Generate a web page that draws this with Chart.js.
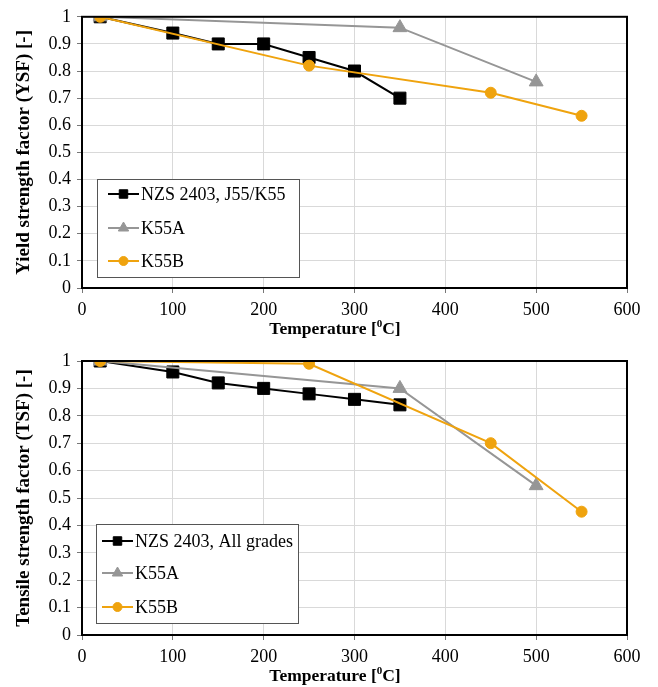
<!DOCTYPE html>
<html>
<head>
<meta charset="utf-8">
<title>Strength reduction factors</title>
<script src="https://cdn.jsdelivr.net/npm/chart.js@4.4.1/dist/chart.umd.min.js"></script>
<style>
  body { margin: 0; background: #fff; }
  canvas { display: block; }
</style>
</head>
<body>
<canvas id="yieldChart" width="658" height="340"></canvas>
<canvas id="tensileChart" width="658" height="347"></canvas>
<script>
// Temperatures (deg C) for each series
const tempsNzs = [20, 100, 150, 200, 250, 300, 350];
const tempsK55a = [20, 350, 500];
const tempsK55b = [20, 250, 450, 550];

// Yield strength factors
const nzsYield = [1, 0.94, 0.9, 0.9, 0.85, 0.8, 0.7];
const k55aYield = [1, 0.96, 0.76];
const k55bYield = [1, 0.82, 0.72, 0.635];

// Tensile strength factors
const nzsTensile = [1, 0.96, 0.92, 0.9, 0.88, 0.86, 0.84];
const k55aTensile = [1, 0.9, 0.545];
const k55bTensile = [1, 0.99, 0.70, 0.45];

const xTicks = [0, 100, 200, 300, 400, 500, 600];

const SERIF = "'Liberation Serif', 'Times New Roman', serif";
const ORANGE = '#EFA30E';
const GREY = '#969696';

function toPoints(xs, ys) {
    return xs.map((x, i) => ({ x: x, y: ys[i] }));
}

// Legend box drawn inside the plot, with small copies of the markers
const boxLegend = {
    id: 'boxLegend',
    afterDraw(chart, args, opts) {
        const ctx = chart.ctx;
        ctx.save();
        ctx.strokeStyle = '#555';
        ctx.lineWidth = 1;
        ctx.fillStyle = '#fff';
        ctx.fillRect(opts.box[0], opts.box[1], opts.box[2], opts.box[3]);
        ctx.strokeRect(opts.box[0] + 0.5, opts.box[1] + 0.5, opts.box[2], opts.box[3]);
        ctx.font = '18px ' + SERIF;
        ctx.textBaseline = 'middle';
        chart.data.datasets.forEach((ds, i) => {
            const y = opts.rows[i];
            ctx.strokeStyle = ds.borderColor;
            ctx.lineWidth = 2;
            ctx.beginPath();
            ctx.moveTo(opts.line[0], y);
            ctx.lineTo(opts.line[1], y);
            ctx.stroke();
            ctx.fillStyle = ds.backgroundColor;
            ctx.lineWidth = 1;
            Chart.helpers.drawPoint(ctx, {
                pointStyle: ds.pointStyle,
                radius: ds.legendRadius,
                borderWidth: 1
            }, (opts.line[0] + opts.line[1]) / 2, y);
            ctx.fillStyle = '#000';
            ctx.fillText(ds.label, opts.textX, y + 1);
        });
        ctx.restore();
    }
};

// Frame around the plot area and the x-axis title with superscript
const frameAndTitle = {
    id: 'frameAndTitle',
    afterDraw(chart) {
        const ctx = chart.ctx;
        const a = chart.chartArea;
        ctx.save();
        ctx.strokeStyle = '#000';
        ctx.lineWidth = 2;
        ctx.strokeRect(a.left, a.top, a.right - a.left, a.bottom - a.top);

        const y = a.bottom + 40;
        const big = 'bold 17.5px ' + SERIF;
        const small = 'bold 11px ' + SERIF;
        const p1 = 'Temperature [', p2 = '0', p3 = 'C]';
        ctx.font = big;
        const w1 = ctx.measureText(p1).width, w3 = ctx.measureText(p3).width;
        ctx.font = small;
        const w2 = ctx.measureText(p2).width;
        let x = 335 - (w1 + w2 + w3) / 2;
        ctx.fillStyle = '#000';
        ctx.textBaseline = 'alphabetic';
        ctx.font = big;
        ctx.fillText(p1, x, y + 6);
        x += w1;
        ctx.font = small;
        ctx.fillText(p2, x, y - 1);
        x += w2;
        ctx.font = big;
        ctx.fillText(p3, x, y + 6);
        ctx.restore();
    }
};

function makeChart(id, yTitle, series, legendOpts, top) {
    const datasets = [
        {
            label: series[0].label,
            data: toPoints(tempsNzs, series[0].values),
            borderColor: '#000',
            backgroundColor: '#000',
            pointStyle: 'rect',
            pointRadius: 8.5,
            legendRadius: 6,
            order: 2
        },
        {
            label: 'K55A',
            data: toPoints(tempsK55a, series[1].values),
            borderColor: GREY,
            backgroundColor: GREY,
            pointStyle: 'triangle',
            pointRadius: 8,
            legendRadius: 6,
            order: 1
        },
        {
            label: 'K55B',
            data: toPoints(tempsK55b, series[2].values),
            borderColor: ORANGE,
            backgroundColor: ORANGE,
            pointStyle: 'circle',
            pointRadius: 5.5,
            legendRadius: 4.5,
            order: 0
        }
    ];
    datasets.forEach(d => {
        d.borderWidth = 2;
        d.pointBorderWidth = 1;
        d.tension = 0;
    });

    return new Chart(document.getElementById(id), {
        type: 'scatter',
        data: { datasets: datasets },
        options: {
            responsive: false,
            animation: false,
            showLine: true,
            layout: { padding: { top: top, right: 31, bottom: 0, left: 0 } },
            plugins: {
                legend: { display: false },
                tooltip: { enabled: false },
                boxLegend: legendOpts
            },
            scales: {
                x: {
                    type: 'linear',
                    min: 0,
                    max: 600,
                    afterBuildTicks(scale) {
                        scale.ticks = xTicks.map(v => ({ value: v }));
                    },
                    afterFit(scale) { scale.height = 52; },
                    grid: { color: '#d9d9d9', tickColor: '#777', tickLength: 5, lineWidth: 1 },
                    border: { display: false },
                    ticks: {
                        color: '#000',
                        padding: 6,
                        maxRotation: 0,
                        font: { family: SERIF, size: 18 }
                    }
                },
                y: {
                    min: 0,
                    max: 1,
                    afterFit(scale) { scale.width = 82; },
                    grid: { color: '#d9d9d9', tickColor: '#777', tickLength: 5, lineWidth: 1 },
                    border: { display: false },
                    ticks: {
                        stepSize: 0.1,
                        color: '#000',
                        padding: 6,
                        font: { family: SERIF, size: 18 },
                        callback: v => String(Math.round(v * 10) / 10)
                    },
                    title: {
                        display: true,
                        text: yTitle,
                        color: '#000',
                        padding: { top: 15, bottom: 0 },
                        font: { family: SERIF, size: 19, weight: 'bold', lineHeight: 1 }
                    }
                }
            }
        },
        plugins: [frameAndTitle, boxLegend]
    });
}

makeChart('yieldChart', 'Yield strength factor (YSF) [-]', [
    { label: 'NZS 2403, J55/K55', values: nzsYield },
    { values: k55aYield },
    { values: k55bYield }
], {
    box: [97, 179, 202, 98],
    line: [108, 139],
    textX: 141,
    rows: [194, 228, 261]
}, 16);

makeChart('tensileChart', 'Tensile strength factor (TSF) [-]', [
    { label: 'NZS 2403, All grades', values: nzsTensile },
    { values: k55aTensile },
    { values: k55bTensile }
], {
    box: [96, 184, 202, 99],
    line: [102, 133],
    textX: 135,
    rows: [201, 233, 267]
}, 21);
</script>
</body>
</html>
